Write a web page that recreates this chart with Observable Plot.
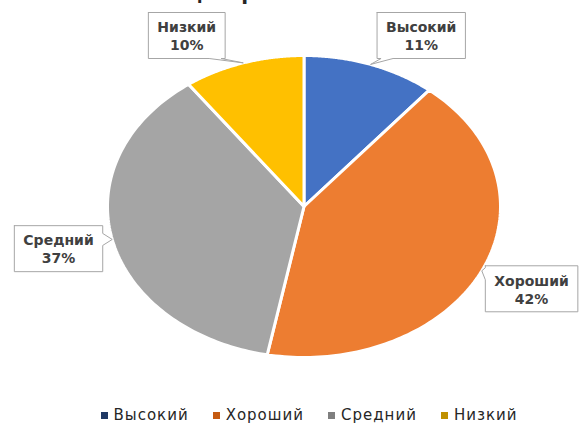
<!DOCTYPE html>
<html>
<head>
<meta charset="utf-8">
<script src="https://cdn.jsdelivr.net/npm/d3@7"></script>
<script src="https://cdn.jsdelivr.net/npm/@observablehq/plot@0.6"></script>
<style>
  html, body { margin: 0; padding: 0; background: #fff; }
  #chart { width: 580px; overflow: hidden; }
</style>
</head>
<body>
<div id="chart"></div>
<script>
// ---- data ----
const title = "Центральная Азия";
const categories = ["Высокий", "Хороший", "Средний", "Низкий"];
const values = [11, 42, 37, 10];
const sliceColors = ["#4472C4", "#ED7D31", "#A5A5A5", "#FFC000"];
const legendColors = ["#1F3864", "#C55A11", "#7F7F7F", "#BF9000"];

// ---- layout ----
const W = 580, H = 401;
const cx = 303.5, cy = 206, rx = 196.5, ry = 151;
const FONT = "DejaVu Sans, sans-serif";
const labelFontSize = 14, labelLine = 18;

const toPx = (u, v) => [cx + u * rx, cy - v * ry];
const toUnit = (X, Y) => [(X - cx) / rx, (cy - Y) / ry];

const data = categories.map((name, i) => ({name, value: values[i]}));
const arcs = d3.pie().sort(null).value(d => d.value)(data);

// slice polygons (unit ellipse coordinates, angle 0 at top, clockwise)
const slicePts = [];
arcs.forEach(a => {
  const name = a.data.name;
  slicePts.push({name, x: 0, y: 0});
  const n = 120;
  for (let k = 0; k <= n; k++) {
    const t = a.startAngle + (a.endAngle - a.startAngle) * k / n;
    slicePts.push({name, x: Math.sin(t), y: Math.cos(t)});
  }
  slicePts.push({name, x: 0, y: 0});
});

// measure label text
const ctx = document.createElement("canvas").getContext("2d");
ctx.font = `bold ${labelFontSize}px DejaVu Sans`;

const labels = [];
const callout = [];
const labelR = 1.28;
const topLimit = 12; // px, box top
arcs.forEach(a => {
  const name = a.data.name;
  const pct = `${a.data.value}%`;
  const mid = (a.startAngle + a.endAngle) / 2;
  const w = Math.max(ctx.measureText(name).width, ctx.measureText(pct).width) + 18;
  const h = 2 * labelLine + 10;
  let u = labelR * Math.sin(mid), v = labelR * Math.cos(mid);
  const vMax = (cy - (topLimit + h / 2)) / ry;
  if (v > vMax) { v = vMax; u = Math.sign(u) * Math.sqrt(labelR * labelR - vMax * vMax); }
  labels.push({name, text: `${name}\n${pct}`, x: u, y: v});
  const [X, Y] = toPx(u, v);
  const L = X - w / 2, R = X + w / 2, T = Y - h / 2, B = Y + h / 2;
  const [tx, ty] = toPx(Math.sin(mid) * 1.0, Math.cos(mid) * 1.0);
  const clamp = (z, lo, hi) => Math.max(lo, Math.min(hi, z));
  const pts = [];
  const hb = 6;
  pts.push([L, T]);
  if (ty < T) { const bx = clamp(tx, L + 10, R - 10); pts.push([bx - hb, T], [tx, ty], [bx + hb, T]); }
  pts.push([R, T]);
  if (ty >= T && ty <= B && tx > R) { const by = clamp(ty, T + 8, B - 8); pts.push([R, by - hb], [tx, ty], [R, by + hb]); }
  pts.push([R, B]);
  if (ty > B) { const bx = clamp(tx, L + 10, R - 10); pts.push([bx + hb, B], [tx, ty], [bx - hb, B]); }
  pts.push([L, B]);
  if (ty >= T && ty <= B && tx < L) { const by = clamp(ty, T + 8, B - 8); pts.push([L, by + hb], [tx, ty], [L, by - hb]); }
  pts.push([L, T]);
  pts.forEach(([px, py]) => { const [uu, vv] = toUnit(px, py); callout.push({name, x: uu, y: vv}); });
});

const chart = Plot.plot({
  width: W,
  height: H,
  margin: 0,
  style: {background: "#fff", fontFamily: FONT, overflow: "hidden"},
  x: {domain: [-cx / rx, (W - cx) / rx], range: [0, W], axis: null},
  y: {domain: [-(H - cy) / ry, cy / ry], range: [H, 0], axis: null},
  color: {domain: categories, range: sliceColors},
  marks: [
    Plot.line(slicePts, {x: "x", y: "y", z: "name", fill: "name", stroke: "white", strokeWidth: 3, strokeLinejoin: "round"}),
    Plot.line(callout, {x: "x", y: "y", z: "name", fill: "white", stroke: "#A6A6A6", strokeWidth: 1}),
    Plot.text(labels, {x: "x", y: "y", text: "text", fontSize: labelFontSize, fontWeight: "bold", fill: "#404040", lineHeight: labelLine / labelFontSize, fontFamily: FONT}),
    Plot.text([title], {frameAnchor: "top", text: d => d, lineAnchor: "bottom", dy: -1, fontSize: 20, fontWeight: "bold", fill: "#262626", fontFamily: FONT})
  ]
});

const legend = Plot.legend({
  color: {type: "ordinal", domain: categories, range: legendColors},
  swatchSize: 7,
  style: {fontFamily: FONT, fontSize: "15px", color: "#262626", justifyContent: "center", paddingLeft: "62px", margin: "0", minHeight: "28px", letterSpacing: "1px"}
});
legend.querySelectorAll("span").forEach(s => { s.style.marginRight = "24px"; });
legend.querySelectorAll("svg").forEach(s => { s.style.marginRight = "6px"; });

document.getElementById("chart").append(chart, legend);
</script>
</body>
</html>
